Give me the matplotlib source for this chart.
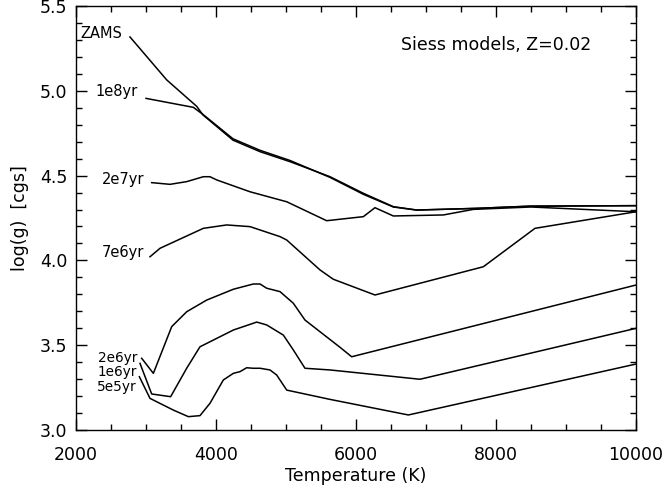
import matplotlib
matplotlib.use("Agg")
import matplotlib.pyplot as plt
from matplotlib.ticker import MultipleLocator

# isochrones: temperature (K) and log(g)
zams_t = [2771, 3296, 3724, 3814, 4243, 4629, 5057, 5629, 6105, 6533, 6867, 7724, 8486, 10000]
zams_g = [5.32, 5.066, 4.91, 4.859, 4.71, 4.642, 4.583, 4.494, 4.396, 4.317, 4.297, 4.307, 4.32, 4.323]

e8_t = [3000, 3676, 3814, 4243, 4629, 5057, 5629, 6105, 6533, 6867, 7724, 8486, 10000]
e8_g = [4.957, 4.904, 4.862, 4.718, 4.650, 4.590, 4.490, 4.390, 4.315, 4.297, 4.307, 4.32, 4.323]

e7_t = [3081, 3343, 3581, 3819, 3914, 4010, 4486, 5010, 5581, 6105, 6271, 6533, 7248, 7676, 8500, 10000]
e7_g = [4.459, 4.449, 4.465, 4.494, 4.494, 4.475, 4.405, 4.346, 4.234, 4.258, 4.311, 4.262, 4.268, 4.301, 4.315, 4.287]

e6_7_t = [3057, 3200, 3819, 4153, 4486, 4914, 5010, 5486, 5676, 6271, 7819, 8557, 10000]
e6_7_g = [4.021, 4.071, 4.189, 4.209, 4.199, 4.14, 4.12, 3.943, 3.888, 3.795, 3.962, 4.189, 4.287]

e6_2_t = [2938, 3105, 3367, 3581, 3867, 4248, 4533, 4629, 4724, 4914, 5105, 5271, 5771, 5938, 10000]
e6_2_g = [3.421, 3.332, 3.608, 3.696, 3.765, 3.829, 3.86, 3.86, 3.835, 3.815, 3.746, 3.647, 3.486, 3.43, 3.854]

e6_1_t = [2914, 3081, 3352, 3581, 3771, 4248, 4533, 4581, 4724, 4962, 5105, 5271, 5629, 6914, 10000]
e6_1_g = [3.391, 3.21, 3.194, 3.362, 3.489, 3.588, 3.628, 3.635, 3.618, 3.558, 3.47, 3.362, 3.352, 3.297, 3.598]

e5_5_t = [2905, 3057, 3390, 3605, 3771, 3914, 4105, 4248, 4343, 4438, 4533, 4629, 4771, 4867, 5010, 5629, 6748, 10000]
e5_5_g = [3.312, 3.184, 3.115, 3.076, 3.082, 3.155, 3.293, 3.332, 3.342, 3.365, 3.362, 3.362, 3.352, 3.322, 3.233, 3.178, 3.086, 3.387]

labels = ["ZAMS", "1e8yr", "2e7yr", "7e6yr", "2e6yr", "1e6yr", "5e5yr"]
label_t = [2657, 2886, 2971, 2971, 2871, 2871, 2871]
label_g = [5.343, 4.995, 4.475, 4.045, 3.425, 3.339, 3.254]
label_size = [10.5, 10.5, 10.5, 10.5, 9.8, 9.8, 9.8]

plt.rcParams['font.family'] = ['DejaVu Sans']

fig = plt.figure(figsize=(6.65, 4.92), dpi=100)
ax = fig.add_axes([0.1143, 0.127, 0.8421, 0.8598])

tracks = [(zams_t, zams_g), (e8_t, e8_g), (e7_t, e7_g), (e6_7_t, e6_7_g),
          (e6_2_t, e6_2_g), (e6_1_t, e6_1_g), (e5_5_t, e5_5_g)]
for t, g in tracks:
    ax.plot(t, g, color='black', lw=1.1)

for lab, t, g, fs in zip(labels, label_t, label_g, label_size):
    ax.text(t, g, lab, ha='right', va='center', fontsize=fs)

ax.text(8000, 5.272, "Siess models, Z=0.02", ha='center', va='center', fontsize=12.5)

ax.set_xlim(2000, 10000)
ax.set_ylim(3.0, 5.5)
ax.xaxis.set_major_locator(MultipleLocator(2000))
ax.xaxis.set_minor_locator(MultipleLocator(500))
ax.yaxis.set_major_locator(MultipleLocator(0.5))
ax.yaxis.set_minor_locator(MultipleLocator(0.1))
ax.yaxis.set_major_formatter(plt.FormatStrFormatter('%.1f'))
ax.tick_params(which='both', direction='in', top=True, right=True, width=1.0)
ax.tick_params(which='major', length=8, labelsize=12.5)
ax.tick_params(which='minor', length=4)
ax.tick_params(axis='x', which='major', pad=12)
ax.tick_params(axis='y', which='major', pad=6)
for s in ax.spines.values():
    s.set_linewidth(1.0)

ax.set_xlabel("Temperature (K)", fontsize=12.5, labelpad=2)
ax.set_ylabel("log(g)  [cgs]", fontsize=12.5, labelpad=8)

fig.savefig("out.png", dpi=100)
